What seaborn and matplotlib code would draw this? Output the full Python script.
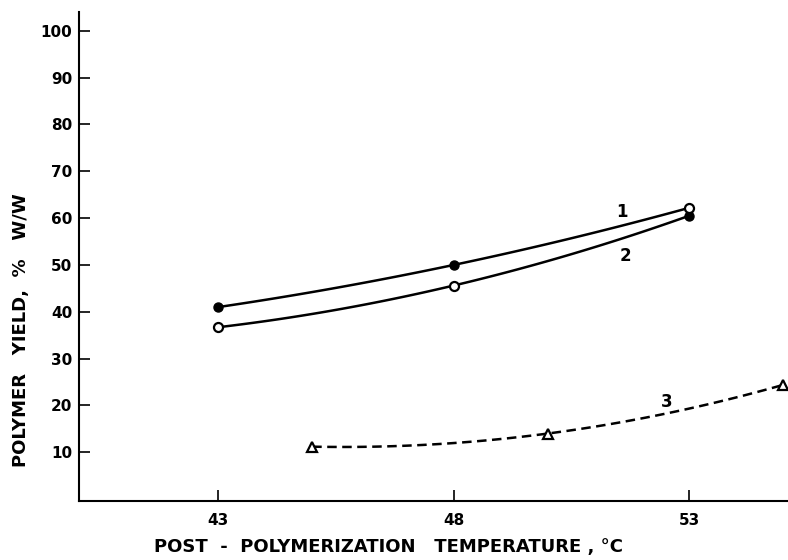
import numpy as np
import pandas as pd
import matplotlib
matplotlib.use("Agg")
import matplotlib.pyplot as plt
import seaborn as sns

# ---- data ----
temp = [43, 48, 53]
yield_filled = [41.0, 50.0, 60.5]   # filled circles
yield_open = [36.7, 45.6, 62.2]     # open circles
curve1_y = [41.0, 50.0, 62.2]       # curve labelled 1
curve2_y = [36.7, 45.6, 60.5]       # curve labelled 2
temp3 = [45, 50, 55]
yield3 = [11.2, 14.0, 24.4]         # triangles, curve 3
yticks = [10, 20, 30, 40, 50, 60, 70, 80, 90, 100]
xticks = [43, 48, 53]
curve_labels = ["1", "2", "3"]

sns.set_theme(style="ticks")
plt.rcParams['font.family'] = ['DejaVu Sans']
plt.rcParams['text.color'] = 'black'
plt.rcParams['axes.labelcolor'] = 'black'

fig = plt.figure(figsize=(7.88, 5.6), dpi=100)
ax = fig.add_axes([0.1003, 0.1054, 0.8997, 0.873])


def smooth(xs, ys):
    c = np.polyfit(xs, ys, 2)
    xx = np.linspace(xs[0], xs[-1], 100)
    return pd.DataFrame({"x": xx, "y": np.polyval(c, xx)})


d1 = smooth(temp, curve1_y)
d2 = smooth(temp, curve2_y)
d3 = smooth(temp3, yield3)
sns.lineplot(data=d1, x="x", y="y", ax=ax, color="black", lw=1.8)
sns.lineplot(data=d2, x="x", y="y", ax=ax, color="black", lw=1.8)
sns.lineplot(data=d3, x="x", y="y", ax=ax, color="black", lw=1.8,
             linestyle=(0, (3.8, 2.2)))

ax.plot(temp, yield_filled, linestyle="none", marker="o", ms=6.5,
        mfc="black", mec="black", zorder=5)
ax.plot(temp, yield_open, linestyle="none", marker="o", ms=6.5,
        mfc="white", mec="black", mew=1.6, zorder=5)
ax.plot(temp3, yield3, linestyle="none", marker="^", ms=7,
        mfc="white", mec="black", mew=1.6, zorder=5, clip_on=False)

ax.text(51.58, 61.4, curve_labels[0], fontsize=12, fontweight="bold", ha="center", va="center")
ax.text(51.64, 52.0, curve_labels[1], fontsize=12, fontweight="bold", ha="center", va="center")
ax.text(52.53, 20.8, curve_labels[2], fontsize=12, fontweight="bold", ha="center", va="center")

ax.set_xlim(40.05, 55.1)
ax.set_ylim(-0.4, 104)
ax.set_xticks(xticks)
ax.set_yticks(yticks)
ax.set_xticklabels([str(t) for t in xticks], fontsize=11, fontweight="bold")
ax.set_yticklabels([str(t) for t in yticks], fontsize=11, fontweight="bold")
ax.tick_params(direction="in", length=8, width=1.2, colors="black")
ax.tick_params(axis="y", pad=5)
ax.tick_params(axis="x", pad=9)
for s in ["top", "right"]:
    ax.spines[s].set_visible(False)
for s in ["left", "bottom"]:
    ax.spines[s].set_linewidth(1.5)
    ax.spines[s].set_color("black")

ax.set_xlabel("POST  -  POLYMERIZATION   TEMPERATURE , °C", fontsize=13,
              fontweight="bold")
ax.set_ylabel("POLYMER   YIELD,  %   W/W", fontsize=13, fontweight="bold")
ax.xaxis.label.set_va("center")
ax.yaxis.label.set_va("center")
ax.xaxis.set_label_coords(0.436, -0.094)
ax.yaxis.set_label_coords(-0.082, 0.35)
ax.set_facecolor("white")
fig.patch.set_facecolor("white")

fig.savefig("out.png", dpi=100, facecolor="white")
